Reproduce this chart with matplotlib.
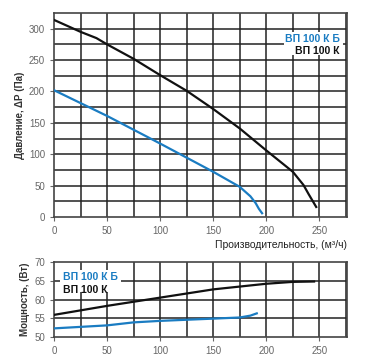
import matplotlib
matplotlib.use("Agg")
import matplotlib.pyplot as plt
import numpy as np

# Pressure curves (Q in m3/h, dP in Pa)
q_k = [0, 25, 40, 50, 75, 100, 125, 150, 175, 200, 225, 235, 240, 247]
p_k = [314, 295, 285, 275, 252, 226, 201, 172, 141, 106, 72, 51, 36, 16]
q_kb = [0, 50, 100, 150, 175, 185, 190, 193, 196]
p_kb = [202, 161, 117, 72, 48, 33, 22, 13, 6]

# Power curves (Q in m3/h, W)
qw_k = [0, 50, 100, 150, 200, 225, 245]
w_k = [55.9, 58.3, 60.5, 62.7, 64.2, 64.7, 64.8]
qw_kb = [0, 50, 75, 100, 150, 175, 185, 191]
w_kb = [52.3, 53.1, 53.9, 54.3, 54.9, 55.2, 55.7, 56.3]

x_ticks = [0, 50, 100, 150, 200, 250]
p_ticks = [0, 50, 100, 150, 200, 250, 300]
w_ticks = [50, 55, 60, 65, 70]
labels = ["ВП 100 К Б", "ВП 100 К"]

BLUE = "#1a7cc2"
BLACK = "#111111"
TICKC = "#666666"

plt.rcParams['font.family'] = ['Liberation Sans', 'DejaVu Sans']

fig = plt.figure(figsize=(3.69, 3.64), dpi=100)
ax1 = fig.add_axes([54/369, 1-217/364, 293/369, 204/364])
ax2 = fig.add_axes([54/369, 1-337/364, 293/369, 75/364])

def style(ax, ymin, ymax, ystep, yticks):
    ax.set_xlim(0, 276)
    ax.set_ylim(ymin, ymax)
    for x in np.arange(25, 276, 25):
        ax.axvline(x, color="#222222", lw=1.1, zorder=1)
    for y in np.arange(ymin + ystep, ymax, ystep):
        ax.axhline(y, color="#222222", lw=1.1, zorder=1)
    ax.set_xticks(x_ticks)
    ax.set_yticks(yticks)
    ax.tick_params(axis='both', colors=TICKC, labelsize=7, length=3, width=0.8,
                   labelcolor=TICKC)
    for s in ax.spines.values():
        s.set_color("#444444")
        s.set_linewidth(1.2)

style(ax1, 0, 325, 25, p_ticks)
ax1.plot(q_k, p_k, color=BLACK, lw=1.6, zorder=3)
ax1.plot(q_kb, p_kb, color=BLUE, lw=1.6, zorder=3)
ax1.set_ylabel("Давление, ΔР (Па)", fontsize=7, color="#333333", fontweight='bold', labelpad=3)
ax1.text(1.0, -0.135, "Производительность, (м³/ч)", transform=ax1.transAxes,
         ha='right', va='center', fontsize=7.5, color="#222222")
ax1.add_patch(plt.Rectangle((0.785, 0.795), 0.2, 0.11, transform=ax1.transAxes,
                            facecolor='white', edgecolor='none', zorder=4))
ax1.text(0.975, 0.875, labels[0], transform=ax1.transAxes, ha='right', va='center',
         fontsize=7.5, color=BLUE, fontweight='bold', zorder=5)
ax1.text(0.975, 0.815, labels[1], transform=ax1.transAxes, ha='right', va='center',
         fontsize=7.5, color=BLACK, fontweight='bold', zorder=5)

style(ax2, 50, 70, 5, w_ticks)
ax2.plot(qw_k, w_k, color=BLACK, lw=1.6, zorder=3)
ax2.plot(qw_kb, w_kb, color=BLUE, lw=1.6, zorder=3)
ax2.set_ylabel("Мощность, (Вт)", fontsize=7, color="#333333", fontweight='bold', labelpad=3)
ax2.add_patch(plt.Rectangle((0.02, 0.6), 0.21, 0.3, transform=ax2.transAxes,
                            facecolor='white', edgecolor='none', zorder=4))
ax2.text(0.03, 0.8, labels[0], transform=ax2.transAxes, ha='left', va='center',
         fontsize=7.5, color=BLUE, fontweight='bold', zorder=5)
ax2.text(0.03, 0.63, labels[1], transform=ax2.transAxes, ha='left', va='center',
         fontsize=7.5, color=BLACK, fontweight='bold', zorder=5)

fig.savefig("out.png", dpi=100)
